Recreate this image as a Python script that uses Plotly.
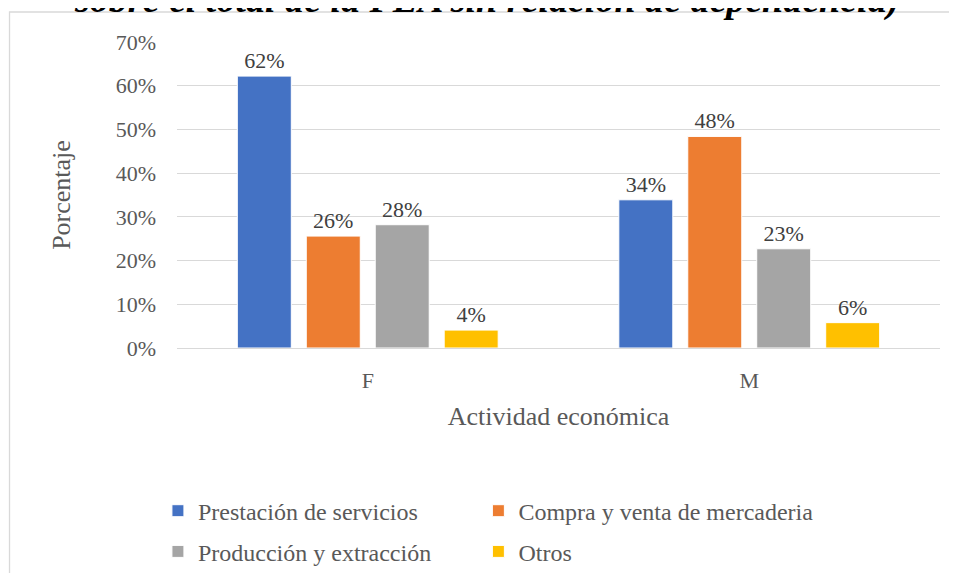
import plotly.graph_objects as go

# categories and series (percent of PEA)
sexo = ["F", "M"]
series = ["Prestación de servicios", "Compra y venta de mercaderia",
          "Producción y extracción", "Otros"]
valores = {
    "Prestación de servicios": [62.2, 33.9],
    "Compra y venta de mercaderia": [25.6, 48.4],
    "Producción y extracción": [28.2, 22.7],
    "Otros": [4.1, 5.8],
}
colores = ["#4472C4", "#ED7D31", "#A5A5A5", "#FFC000"]
# one legend box per entry: 2 columns x 2 rows
leyenda = ["legend", "legend2", "legend3", "legend4"]

FONT = "Liberation Serif"
TXT = "#595959"

fig = go.Figure()
for name, col, lg in zip(series, colores, leyenda):
    fig.add_trace(go.Bar(
        x=sexo, y=valores[name], name=name,
        marker=dict(color=col, line=dict(color="white", width=1)),
        texttemplate="%{y:.0f}%", textposition="outside",
        textfont=dict(family=FONT, size=22, color="#404040"),
        cliponaxis=False, legend=lg,
    ))

legend_style = dict(
    orientation="h", xanchor="left", yanchor="middle",
    font=dict(family=FONT, size=24, color=TXT),
    bgcolor="rgba(0,0,0,0)",
)
col1, col2 = -0.025, 0.395
row1, row2 = -0.533, -0.666

# page body adds an 8px margin, so the figure is 16px smaller than the window
fig.update_layout(
    width=941, height=565,
    margin=dict(l=169, r=9, t=34, b=225, autoexpand=False),
    paper_bgcolor="white", plot_bgcolor="white",
    font=dict(family=FONT, size=22, color=TXT),
    barmode="group", bargap=0.277, bargroupgap=0.217,
    legend=dict(x=col1, y=row1, **legend_style),
    legend2=dict(x=col2, y=row1, **legend_style),
    legend3=dict(x=col1, y=row2, **legend_style),
    legend4=dict(x=col2, y=row2, **legend_style),
    showlegend=True,
)
fig.update_yaxes(
    range=[0, 70], dtick=10, ticksuffix="%",
    gridcolor="#D9D9D9", gridwidth=1.3, zeroline=False,
    showline=False, ticklabelstandoff=20, automargin=False,
    tickfont=dict(family=FONT, size=22, color=TXT),
    title=dict(text="Porcentaje", font=dict(family=FONT, size=26, color=TXT), standoff=37),
)
fig.update_xaxes(
    showline=True, linecolor="#D9D9D9", linewidth=1.3,
    ticklabelstandoff=12, automargin=False,
    tickfont=dict(family=FONT, size=22, color=TXT),
    title=dict(text="Actividad económica", font=dict(family=FONT, size=26, color=TXT)),
)

# chart frame (runs off the page on the right and bottom)
fig.add_shape(type="rect", xref="paper", yref="paper",
              x0=-0.2195, x1=1.2, y0=-1.2, y1=1.098,
              line=dict(color="#D9D9D9", width=1.3), layer="below")

# heading, clipped by the page top
fig.add_annotation(
    text="<b><i>sobre el total de la PEA sin relación de dependencia)</i></b>",
    xref="paper", yref="paper", x=0.405, y=1.062, xanchor="center", yanchor="bottom",
    showarrow=False, font=dict(family=FONT, size=38, color="black"),
)

fig.write_html("out.html")
